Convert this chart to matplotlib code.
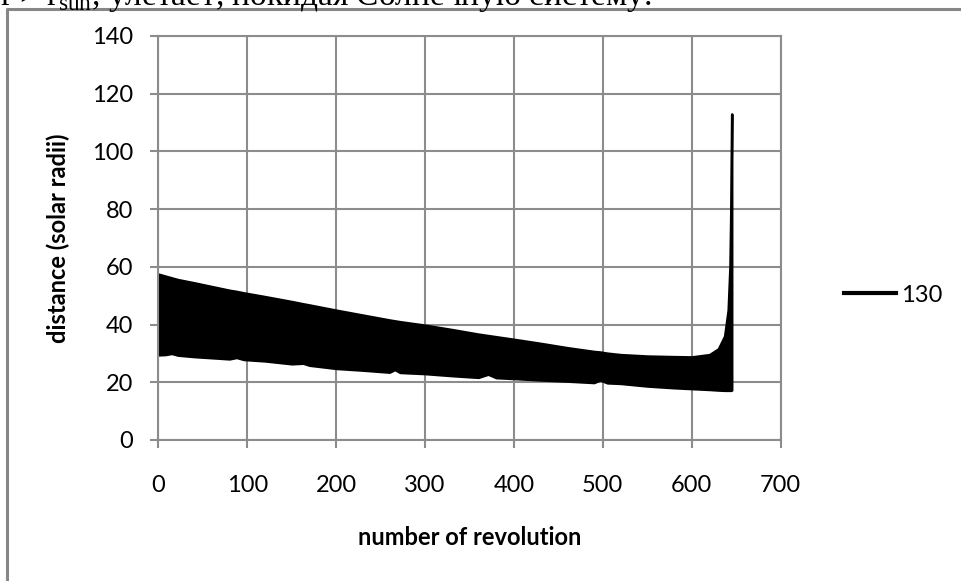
import matplotlib
matplotlib.use('Agg')
from matplotlib import pyplot as plt
from matplotlib.lines import Line2D

# envelope of the orbit distance
rev = [0, 8, 15, 22, 40, 60, 80, 88, 96, 120, 150, 163, 170, 200, 230, 260, 266, 272, 300,
       330, 360, 371, 380, 400, 430, 460, 490, 497, 505, 520, 550, 580, 600, 620, 630,
       637, 641, 643, 644, 645]
upper = [57.5, 56.8, 56.2, 55.6, 54.5, 53.2, 51.9, 51.5, 51.0, 49.7, 48.0, 47.2, 46.8, 45.0,
         43.3, 41.6, 41.3, 41.0, 39.8, 38.3, 36.7, 36.2, 35.8, 34.9, 33.5, 32.0, 30.7, 30.5,
         30.1, 29.6, 29.1, 28.9, 28.8, 29.6, 31.6, 36.0, 45.0, 60.0, 80.0, 113.0]
lower = [29.5, 29.6, 30.0, 29.4, 28.9, 28.5, 28.1, 28.6, 27.9, 27.4, 26.4, 26.6, 25.9, 24.8,
         24.2, 23.5, 24.4, 23.4, 23.0, 22.3, 21.7, 22.8, 21.6, 21.3, 20.8, 20.4, 19.9, 20.8,
         19.8, 19.6, 18.7, 18.1, 17.8, 17.5, 17.3, 17.2, 17.2, 17.2, 17.2, 17.3]

series_name = '130'
x_ticks = [0, 100, 200, 300, 400, 500, 600, 700]
y_ticks = [0, 20, 40, 60, 80, 100, 120, 140]

grid_color = '#8c8c8c'

plt.rcParams['font.family'] = ['Lato', 'DejaVu Sans']
plt.rcParams['mathtext.fontset'] = 'custom'
plt.rcParams['mathtext.rm'] = 'Liberation Serif'


def main():
    fig = plt.figure(figsize=(9.61, 5.81), dpi=100)
    ax = fig.add_axes([158.3 / 961, 1 - 440 / 581, 622.3 / 961, 404 / 581])

    ax.fill_between(rev, lower, upper, color='black', linewidth=1.8, edgecolor='black')

    ax.set_xlim(0, 700)
    ax.set_ylim(0, 140)
    ax.set_xticks(x_ticks)
    ax.set_yticks(y_ticks)
    ax.grid(True, color=grid_color, linewidth=1.5)
    ax.set_axisbelow(True)
    for s in ax.spines.values():
        s.set_color(grid_color)
        s.set_linewidth(1.5)
    ax.tick_params(axis='both', colors=grid_color, length=6, width=1.5,
                   labelcolor='black', labelsize=17)
    ax.tick_params(axis='x', pad=19)
    ax.tick_params(axis='y', pad=12)

    ax.set_xlabel('number of revolution', fontsize=17, fontweight='bold', labelpad=22)
    ax.set_ylabel('distance (solar radii)', fontsize=17, fontweight='bold')
    ax.yaxis.set_label_coords(-0.142, 0.5)

    handle = Line2D([], [], color='black', linewidth=3)
    fig.legend([handle], [series_name], loc='center left',
               bbox_to_anchor=(823 / 961, 1 - 295 / 581), frameon=False,
               fontsize=17, handlelength=2.2, handletextpad=0.2)

    # outer chart frame (continues past the right and bottom edges)
    fig.add_artist(Line2D([6.5 / 961, 6.5 / 961, 1.0], [0.0, 1 - 9 / 581, 1 - 9 / 581],
                          color='#878787', linewidth=2.2, transform=fig.transFigure))

    # the cut-off line of the surrounding text
    fig.text(0.0, 1 - 5 / 581, r'r > r$_{\mathrm{sun}}$, улетает, покидая Солнечную систему.',
             fontsize=24, family='Liberation Serif', va='baseline', ha='left')

    fig.savefig('out.png', dpi=100)


if __name__ == '__main__':
    main()
